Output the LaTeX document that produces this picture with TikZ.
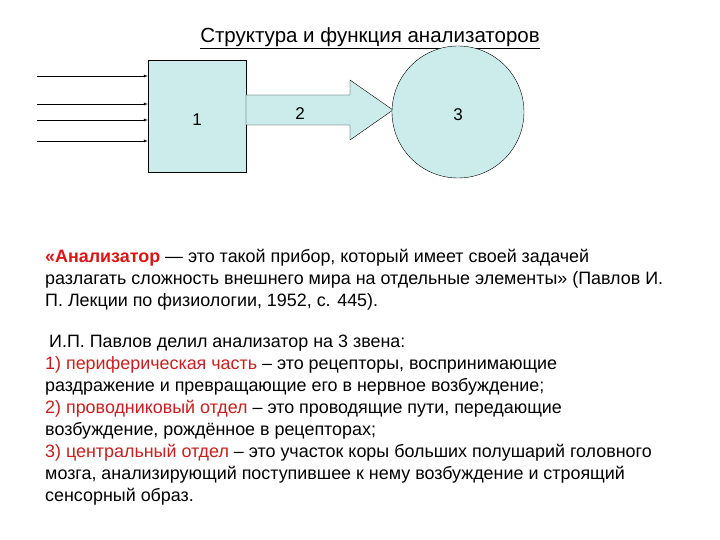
\documentclass[tikz,border=0pt]{standalone}
\usepackage{fontspec}
\setmainfont{Liberation Sans}
\definecolor{fillc}{RGB}{204,236,236}
\definecolor{redc}{RGB}{220,20,20}
\definecolor{dred}{RGB}{200,30,30}
\begin{document}
\begin{tikzpicture}[x=1pt,y=-1pt,
  ln/.style={anchor=west,inner sep=0pt,font=\fontsize{17.9}{20}\selectfont},
  lab/.style={font=\fontsize{17}{20}\selectfont},
  shp/.style={draw,fill=fillc}]
\useasboundingbox (0,0) rectangle (720,540);
\node[font=\fontsize{20.5}{24}\selectfont] (title) at (370,38) {\underline{Структура и функция анализаторов}};
\node[shp,minimum width=98pt,minimum height=112pt,inner sep=0pt] (box) at (197,116) {};
\node[lab] (n1) at (197,120) {1};
\draw[shp] (246,95) -- (350,95) -- (350,80) -- (393,110) -- (350,140) -- (350,125) -- (246,125) -- cycle;
\node[lab] (n2) at (300,114) {2};
\node[shp,circle,minimum size=132pt,inner sep=0pt] (circ) at (458,112) {};
\node[lab] (n3) at (458,115) {3};
\foreach \y/\n in {76/a,104/b,120/c,141/d}{
  \coordinate (s\n) at (37,\y);
  \draw[-latex] (s\n) -- (box.west |- s\n);
}
\node[ln] (t1) at (45,258) {\textcolor{redc}{\textbf{«Анализатор}} — это такой прибор, который имеет своей задачей};
\node[ln] (t2) at (45,280) {разлагать сложность внешнего мира на отдельные элементы» (Павлов И.};
\node[ln] (t3) at (45,302) {П. Лекции по физиологии, 1952, с. 445).};
\node[ln] (t4) at (49,343) {И.П. Павлов делил анализатор на 3 звена:};
\node[ln] (t5) at (45,365) {\textcolor{dred}{1) периферическая часть} – это рецепторы, воспринимающие};
\node[ln] (t6) at (45,387) {раздражение и превращающие его в нервное возбуждение;};
\node[ln] (t7) at (45,409) {\textcolor{dred}{2) проводниковый отдел} – это проводящие пути, передающие};
\node[ln] (t8) at (45,431) {возбуждение, рождённое в рецепторах;};
\node[ln] (t9) at (45,453) {\textcolor{dred}{3) центральный отдел} – это участок коры больших полушарий головного};
\node[ln] (t10) at (45,475) {мозга, анализирующий поступившее к нему возбуждение и строящий};
\node[ln] (t11) at (45,497) {сенсорный образ.};
\end{tikzpicture}
\end{document}
